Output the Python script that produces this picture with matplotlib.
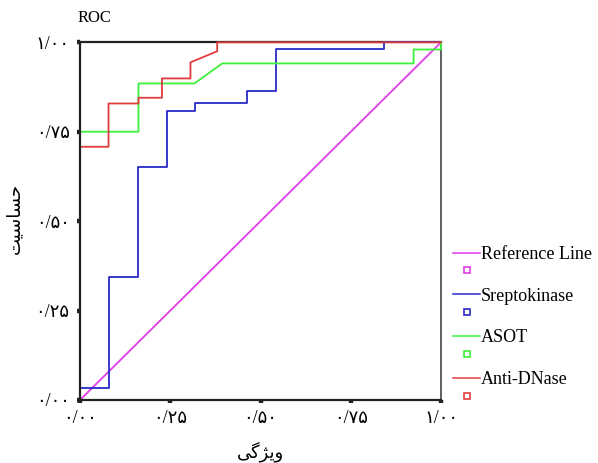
import matplotlib
matplotlib.use('Agg')
import matplotlib.pyplot as plt
from matplotlib.lines import Line2D
from matplotlib.legend_handler import HandlerBase

plt.rcParams['font.family'] = ['Liberation Serif', 'DejaVu Sans']
plt.rcParams['font.size'] = 12

# ROC curves (1 - specificity, sensitivity)
ref_x = [0.0, 1.0]
ref_y = [0.0, 1.0]

strep_x = [0, 0, 0.079, 0.079, 0.162, 0.162, 0.241, 0.241, 0.318, 0.318, 0.463, 0.463, 0.544, 0.544, 0.843, 0.843, 1.0]
strep_y = [0, 0.034, 0.034, 0.344, 0.344, 0.652, 0.652, 0.809, 0.809, 0.829, 0.829, 0.865, 0.865, 0.980, 0.980, 1.0, 1.0]

asot_x = [0, 0, 0.162, 0.162, 0.317, 0.394, 0.924, 0.924, 1.0, 1.0]
asot_y = [0, 0.750, 0.750, 0.885, 0.885, 0.941, 0.941, 0.980, 0.980, 1.0]

dnase_x = [0, 0, 0.079, 0.079, 0.162, 0.162, 0.227, 0.227, 0.306, 0.306, 0.380, 0.380, 1.0]
dnase_y = [0, 0.708, 0.708, 0.829, 0.829, 0.845, 0.845, 0.899, 0.899, 0.944, 0.975, 1.0, 1.0]

series_names = ['Reference Line', 'Sreptokinase', 'ASOT', 'Anti-DNase']
series_colors = ['#e03ce8', '#2a2ac8', '#3cf03c', '#e03c3c']

tick_vals = [0, 0.25, 0.5, 0.75, 1.0]
tick_labels = ['۰/۰۰', '۰/۲۵', '۰/۵۰', '۰/۷۵', '۱/۰۰']

# Persian labels written in shaped, visual order (matplotlib has no bidi shaping)
xlabel_fa = '\uFBFD\uFB94\uFB8B\uFBFE\uFEED'          # ویژگی
ylabel_fa = '\uFE96\uFBFF\uFEB3\uFE8E\uFEB4\uFEA3'    # حساسیت


class LineAndBox(HandlerBase):
    def create_artists(self, legend, orig, xd, yd, width, height, fontsize, trans):
        c = orig.get_color()
        y = height / 2 - yd
        line = Line2D([-xd, -xd + width], [y, y], color=c, lw=1.1, transform=trans)
        box = Line2D([-xd + width / 2], [y - 1.4 * height], marker='s', ms=4,
                     mfc='white', mec=c, mew=1.2, ls='none', transform=trans)
        return [line, box]


fig = plt.figure(figsize=(5.98, 4.63), dpi=100)
ax = fig.add_axes([0.1338, 0.1361, 0.6037, 0.7725])

lines = []
for (x, y), name, col in zip([(ref_x, ref_y), (strep_x, strep_y), (asot_x, asot_y), (dnase_x, dnase_y)],
                             series_names, series_colors):
    l, = ax.plot(x, y, color=col, lw=1.3, label=name, clip_on=False, zorder=3)
    lines.append(l)

ax.set_xlim(0, 1)
ax.set_ylim(0, 1)
ax.set_xticks(tick_vals)
ax.set_yticks(tick_vals)
ax.set_xticklabels(tick_labels)
ax.set_yticklabels(tick_labels)
ax.tick_params(direction='out', length=2.5, width=3.2, color='#222222', labelsize=13, pad=5)

# left/bottom axis lines sit above the curves, top/right frame below them
for s in ['left', 'bottom']:
    ax.spines[s].set_linewidth(1.6)
    ax.spines[s].set_color('#222222')
    ax.spines[s].set_zorder(4)
ax.spines['top'].set_linewidth(1.6)
ax.spines['top'].set_color('#222222')
ax.spines['right'].set_linewidth(1.2)
ax.spines['right'].set_color('#444444')

fig.text(0.1338 - 0.005, 1 - 18 / 463, 'ROC', ha='left', va='center', fontsize=12)
fig.text(260 / 598, 1 - 452 / 463, xlabel_fa, ha='center', va='center', fontsize=13)
fig.text(15 / 598, 1 - 218 / 463, ylabel_fa, ha='center', va='center', fontsize=13, rotation=90)

fig.legend(handles=lines, labels=series_names, handler_map={Line2D: LineAndBox()},
           loc='upper left', bbox_to_anchor=(453 / 598, 1 - 246 / 463), frameon=False,
           fontsize=13, handlelength=1.5, handletextpad=0.05, labelspacing=1.37,
           borderpad=0, borderaxespad=0)

fig.savefig('out.png', dpi=100)
